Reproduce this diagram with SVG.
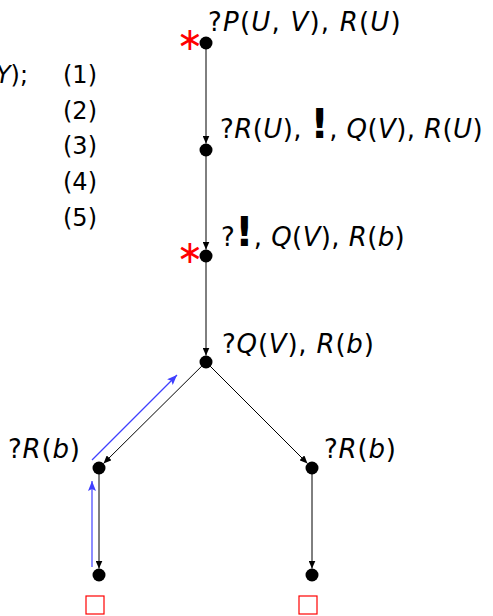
<svg xmlns="http://www.w3.org/2000/svg" width="493" height="616" viewBox="0 0 493 616">
<style>
text{font-family:"DejaVu Sans","Liberation Sans",sans-serif;font-size:24px;fill:#000}
.l{font-size:26px;letter-spacing:0.8px}
.i{font-style:italic}
.bang{font-size:40px;font-weight:bold}
.ast{fill:#ff0000;font-size:32px}
.e{stroke:#000;stroke-width:1;fill:none;marker-end:url(#ah)}
.b{stroke:#4040ff;stroke-width:1.2;fill:none;marker-end:url(#bh)}
.dot{fill:#000}
.sq{fill:none;stroke:#ff0000;stroke-width:1.2}
</style>
<defs>
<marker id="ah" markerWidth="8" markerHeight="7" refX="8" refY="3.5" orient="auto" markerUnits="userSpaceOnUse"><path d="M0,0 L8,3.5 L0,7 z" fill="#000"/></marker>
<marker id="bh" markerWidth="10" markerHeight="8" refX="10" refY="4" orient="auto" markerUnits="userSpaceOnUse"><path d="M0,0 L10,4 L0,8 L2,4 z" fill="#4040ff"/></marker>
</defs>
<g id="clauses">
<text x="28" y="83" text-anchor="end"><tspan class="i">Y</tspan>);</text>
<text x="63" y="83">(1)</text>
<text x="63" y="118.7">(2)</text>
<text x="63" y="154.4">(3)</text>
<text x="63" y="190">(4)</text>
<text x="63" y="225.8">(5)</text>
</g>
<g id="connectors">
<line class="e" x1="206" y1="49" x2="206" y2="143.5"/>
<line class="e" x1="206" y1="156" x2="206" y2="249.5"/>
<line class="e" x1="206" y1="262" x2="206" y2="355.5"/>
<line class="e" x1="201.7" y1="366.2" x2="103.5" y2="463.5"/>
<line class="e" x1="210.2" y1="366.2" x2="307.5" y2="463.5"/>
<line class="e" x1="99" y1="474" x2="99" y2="568.5"/>
<line class="e" x1="312" y1="474" x2="312" y2="568.5"/>
<line class="b" x1="92" y1="460" x2="177" y2="375"/>
<line class="b" x1="92" y1="567" x2="92" y2="481"/>
</g>
<g id="n1">
<circle class="dot" cx="206" cy="43" r="6.5"/>
<text class="ast" x="190" y="50" text-anchor="middle">∗</text>
<text class="l" x="208" y="31" style="letter-spacing:1.2px">?<tspan class="i">P</tspan>(<tspan class="i">U</tspan>, <tspan class="i">V</tspan>), <tspan class="i">R</tspan>(<tspan class="i">U</tspan>)</text>
</g>
<g id="n2">
<circle class="dot" cx="206" cy="150" r="6.5"/>
<text class="l" x="220" y="137.5" style="letter-spacing:0.4px">?<tspan class="i">R</tspan>(<tspan class="i">U</tspan>), <tspan class="bang">!</tspan>, <tspan class="i">Q</tspan>(<tspan class="i">V</tspan>), <tspan class="i">R</tspan>(<tspan class="i">U</tspan>)</text>
</g>
<g id="n3">
<circle class="dot" cx="206" cy="256" r="6.5"/>
<text class="ast" x="190" y="263" text-anchor="middle">∗</text>
<text class="l" x="221" y="246" style="letter-spacing:0.4px">?<tspan class="bang">!</tspan>, <tspan class="i">Q</tspan>(<tspan class="i">V</tspan>), <tspan class="i">R</tspan>(<tspan class="i">b</tspan>)</text>
</g>
<g id="n4">
<circle class="dot" cx="206" cy="362" r="6.5"/>
<text class="l" x="222" y="352.7">?<tspan class="i">Q</tspan>(<tspan class="i">V</tspan>), <tspan class="i">R</tspan>(<tspan class="i">b</tspan>)</text>
</g>
<g id="n5">
<circle class="dot" cx="99" cy="468" r="6.5"/>
<text class="l" x="8" y="458.3">?<tspan class="i">R</tspan>(<tspan class="i">b</tspan>)</text>
</g>
<g id="n6">
<circle class="dot" cx="312" cy="468" r="6.5"/>
<text class="l" x="324" y="458.3">?<tspan class="i">R</tspan>(<tspan class="i">b</tspan>)</text>
</g>
<g id="n7">
<circle class="dot" cx="99" cy="575" r="6.5"/>
<rect class="sq" x="86" y="596" width="18" height="18"/>
</g>
<g id="n8">
<circle class="dot" cx="312" cy="575" r="6.5"/>
<rect class="sq" x="299" y="596" width="18" height="18"/>
</g>
</svg>
